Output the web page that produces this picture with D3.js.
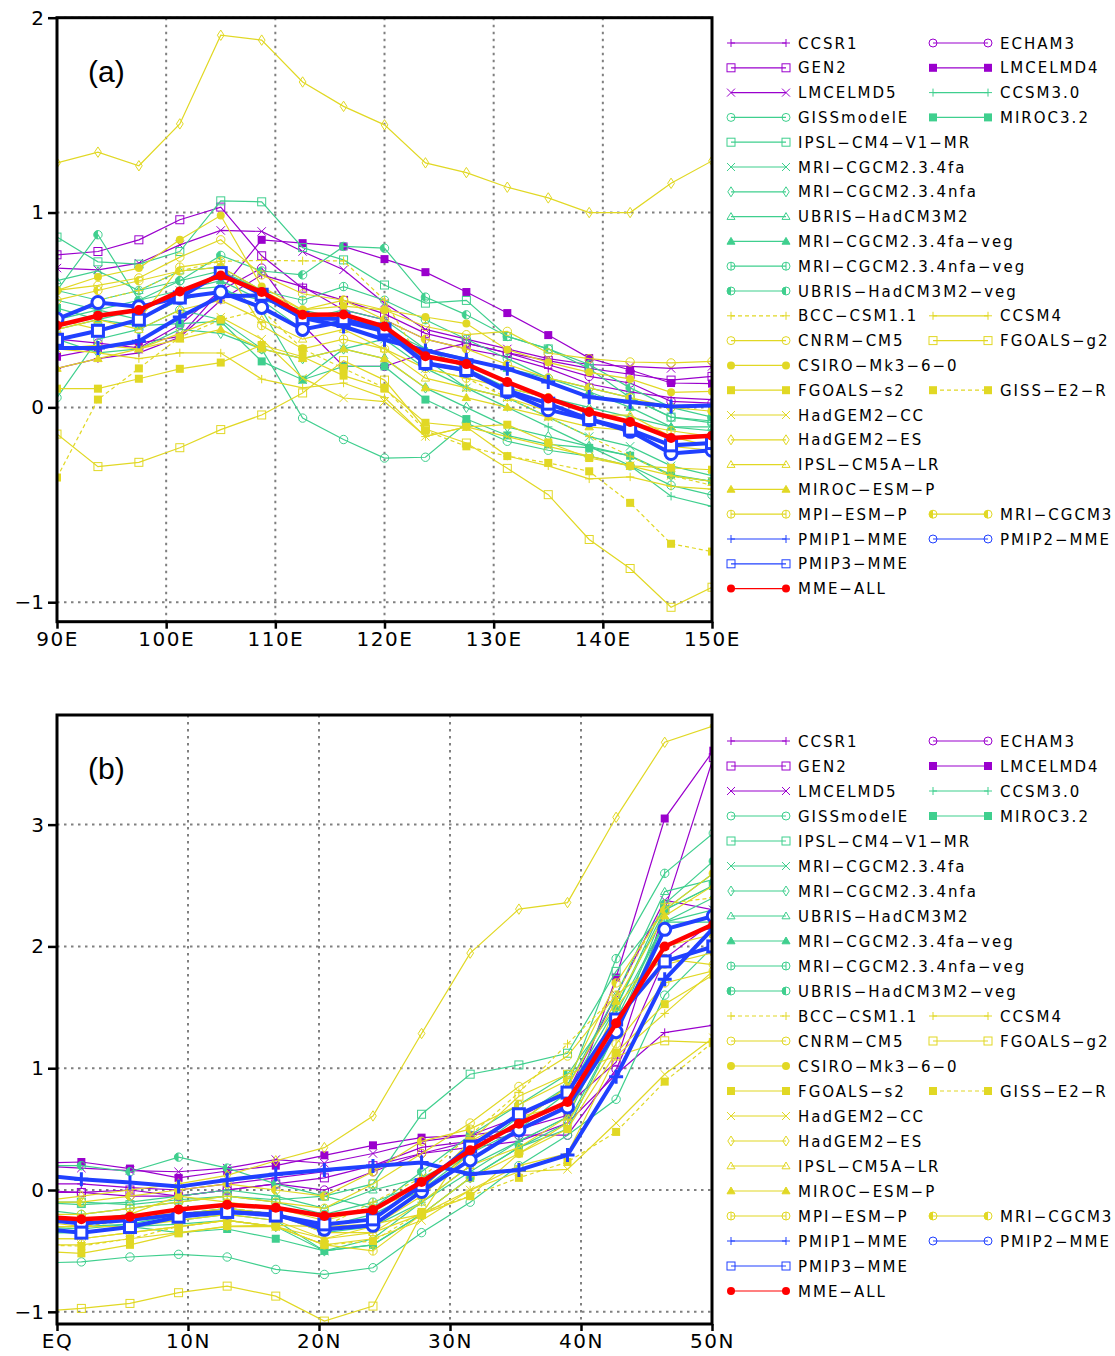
<!DOCTYPE html>
<html>
<head>
<meta charset="utf-8">
<script src="https://cdn.jsdelivr.net/npm/d3@7"></script>
<style>
  body { margin: 0; background: #fff; }
  svg { display: block; }
</style>
</head>
<body>
<svg id="chart" width="1115" height="1356"></svg>
<script>
// grid points: longitude (panel a) and gaussian latitudes (panel b)
const lonA = [90, 93.75, 97.5, 101.25, 105, 108.75, 112.5, 116.25, 120, 123.75, 127.5, 131.25, 135, 138.75, 142.5, 146.25, 150];
const latB = [-1.86, 1.86, 5.57, 9.28, 12.99, 16.70, 20.41, 24.12, 27.83, 31.54, 35.26, 38.97, 42.68, 46.39, 50.10];

const models = [
  "CCSR1", "ECHAM3", "GEN2", "LMCELMD4", "LMCELMD5",
  "CCSM3.0", "GISSmodelE", "MIROC3.2", "IPSL−CM4−V1−MR", "MRI−CGCM2.3.4fa",
  "MRI−CGCM2.3.4nfa", "UBRIS−HadCM3M2", "MRI−CGCM2.3.4fa−veg", "MRI−CGCM2.3.4nfa−veg", "UBRIS−HadCM3M2−veg",
  "BCC−CSM1.1", "CCSM4", "CNRM−CM5", "FGOALS−g2", "CSIRO−Mk3−6−0",
  "FGOALS−s2", "GISS−E2−R", "HadGEM2−CC", "HadGEM2−ES", "IPSL−CM5A−LR",
  "MIROC−ESM−P", "MPI−ESM−P", "MRI−CGCM3",
  "PMIP1−MME", "PMIP2−MME", "PMIP3−MME", "MME−ALL"
];

// panel (a): values along 90E-150E, same order as models
const seriesA = [
  [0.20, 0.25, 0.28, 0.36, 0.55, 0.68, 0.62, 0.50, 0.45, 0.35, 0.30, 0.26, 0.20, 0.12, 0.08, 0.05, 0.04],
  [0.35, 0.33, 0.305, 0.424, 0.60, 0.715, 0.424, 0.21, 0.21, 0.28, 0.33, 0.279, 0.219, 0.159, 0.125, 0.031, 0.022],
  [0.783, 0.80, 0.86, 0.963, 1.028, 0.778, 0.612, 0.549, 0.48, 0.38, 0.33, 0.28, 0.24, 0.20, 0.17, 0.14, 0.159],
  [0.26, 0.30, 0.33, 0.364, 0.60, 0.86, 0.843, 0.826, 0.761, 0.694, 0.592, 0.484, 0.371, 0.253, 0.192, 0.125, 0.122],
  [0.715, 0.706, 0.74, 0.834, 0.908, 0.903, 0.80, 0.706, 0.535, 0.40, 0.35, 0.30, 0.25, 0.22, 0.21, 0.20, 0.21],
  [0.55, 0.50, 0.45, 0.55, 0.60, 0.55, 0.50, 0.45, 0.40, 0.25, 0.10, 0.00, -0.10, -0.20, -0.30, -0.456, -0.508],
  [0.05, 0.35, 0.40, 0.50, 0.45, 0.30, -0.055, -0.165, -0.26, -0.256, -0.08, -0.174, -0.22, -0.25, -0.30, -0.40, -0.45],
  [0.51, 0.45, 0.42, 0.43, 0.441, 0.236, 0.142, 0.21, 0.21, 0.04, -0.06, -0.144, -0.19, -0.208, -0.248, -0.345, -0.38],
  [0.874, 0.747, 0.735, 0.80, 1.06, 1.055, 0.82, 0.757, 0.628, 0.535, 0.549, 0.364, 0.30, 0.20, 0.05, -0.05, -0.07],
  [0.40, 0.45, 0.50, 0.60, 0.62, 0.50, 0.142, 0.30, 0.35, 0.20, 0.10, 0.05, -0.05, -0.15, -0.20, -0.30, -0.35],
  [0.35, 0.28, 0.30, 0.40, 0.38, 0.30, 0.25, 0.30, 0.25, 0.10, 0.00, -0.10, -0.15, -0.20, -0.25, -0.35, -0.38],
  [0.65, 0.70, 0.60, 0.70, 0.72, 0.60, 0.45, 0.50, 0.45, 0.30, 0.20, 0.10, 0.05, 0.00, -0.05, -0.10, -0.10],
  [0.45, 0.50, 0.55, 0.60, 0.65, 0.55, 0.40, 0.45, 0.40, 0.30, 0.25, 0.20, 0.15, 0.08, 0.00, -0.10, -0.12],
  [0.60, 0.55, 0.60, 0.65, 0.70, 0.60, 0.55, 0.62, 0.55, 0.45, 0.35, 0.25, 0.15, 0.10, 0.05, -0.05, -0.08],
  [0.60, 0.886, 0.55, 0.65, 0.78, 0.70, 0.68, 0.826, 0.817, 0.566, 0.475, 0.364, 0.30, 0.22, 0.10, 0.00, -0.05],
  [0.45, 0.55, 0.60, 0.70, 0.75, 0.754, 0.752, 0.752, 0.55, 0.20, 0.15, 0.05, -0.05, -0.15, -0.25, -0.35, -0.40],
  [0.30, 0.28, 0.25, 0.28, 0.279, 0.145, 0.10, 0.125, 0.05, -0.15, -0.10, -0.25, -0.30, -0.367, -0.357, -0.405, -0.42],
  [0.60, 0.626, 0.664, 0.771, 0.86, 0.68, 0.583, 0.55, 0.50, 0.415, 0.373, 0.39, 0.279, 0.25, 0.233, 0.228, 0.236],
  [-0.137, -0.304, -0.282, -0.207, -0.114, -0.039, 0.074, 0.24, 0.14, -0.111, -0.183, -0.313, -0.448, -0.678, -0.827, -1.026, -0.923],
  [0.60, 0.669, 0.715, 0.86, 0.985, 0.62, 0.50, 0.52, 0.50, 0.464, 0.43, 0.296, 0.231, 0.18, 0.146, 0.077, 0.082],
  [0.096, 0.096, 0.147, 0.198, 0.23, 0.32, 0.26, 0.163, 0.096, -0.079, -0.10, -0.089, -0.18, -0.26, -0.30, -0.31, -0.32],
  [-0.36, 0.04, 0.20, 0.36, 0.45, 0.50, 0.30, 0.20, 0.10, -0.12, -0.20, -0.25, -0.285, -0.328, -0.49, -0.70, -0.74],
  [0.30, 0.32, 0.30, 0.38, 0.463, 0.35, 0.15, 0.048, 0.03, -0.149, -0.10, -0.15, -0.20, -0.25, -0.30, -0.35, -0.38],
  [1.255, 1.31, 1.24, 1.455, 1.91, 1.885, 1.67, 1.545, 1.45, 1.255, 1.205, 1.13, 1.075, 1.0, 1.0, 1.15, 1.265],
  [0.40, 0.45, 0.40, 0.50, 0.55, 0.45, 0.35, 0.40, 0.30, 0.15, 0.10, 0.05, -0.02, -0.04, -0.04, -0.15, -0.20],
  [0.20, 0.25, 0.30, 0.35, 0.40, 0.30, 0.25, 0.30, 0.25, 0.10, 0.05, 0.00, -0.05, -0.10, -0.12, -0.20, -0.22],
  [0.45, 0.40, 0.45, 0.72, 0.75, 0.42, 0.30, 0.35, 0.30, 0.20, 0.15, 0.10, 0.05, -0.02, -0.08, -0.12, -0.15],
  [0.55, 0.60, 0.65, 0.70, 0.72, 0.60, 0.50, 0.55, 0.45, 0.35, 0.30, 0.22, 0.15, 0.10, 0.05, 0.00, -0.02],
  [0.305, 0.305, 0.34, 0.464, 0.57, 0.575, 0.46, 0.415, 0.347, 0.292, 0.245, 0.198, 0.13, 0.053, 0.028, 0.005, 0.009],
  [0.453, 0.538, 0.516, 0.564, 0.592, 0.513, 0.40, 0.441, 0.39, 0.225, 0.19, 0.08, -0.012, -0.063, -0.123, -0.237, -0.22],
  [0.347, 0.393, 0.45, 0.564, 0.689, 0.578, 0.458, 0.453, 0.40, 0.228, 0.192, 0.087, 0.019, -0.06, -0.114, -0.195, -0.183],
  [0.42, 0.47, 0.50, 0.595, 0.677, 0.592, 0.475, 0.477, 0.415, 0.262, 0.222, 0.13, 0.046, -0.024, -0.075, -0.157, -0.145]
];

// panel (b): values along the latitudes, same order as models
const seriesB = [
  [0.05, 0.05, 0.02, 0.0, 0.05, 0.10, 0.15, 0.20, 0.30, 0.35, 0.40, 0.55, 0.95, 1.293, 1.353],
  [0.0, -0.02, -0.05, -0.05, 0.0, 0.05, 0.0, 0.15, 0.30, 0.40, 0.45, 0.45, 0.99, 1.90, 2.20],
  [-0.02, -0.02, 0.0, -0.05, 0.0, 0.05, 0.10, 0.20, 0.35, 0.40, 0.50, 0.70, 1.05, 2.30, 3.55],
  [0.22, 0.23, 0.176, 0.10, 0.156, 0.20, 0.285, 0.367, 0.43, 0.45, 0.50, 0.614, 1.745, 3.05, 3.607],
  [0.20, 0.18, 0.16, 0.15, 0.18, 0.25, 0.22, 0.30, 0.40, 0.45, 0.60, 0.80, 1.60, 2.38, 2.30],
  [-0.30, -0.30, -0.28, -0.20, -0.15, -0.20, -0.35, -0.30, -0.10, 0.15, 0.40, 0.60, 1.45, 2.20, 2.20],
  [-0.60, -0.59, -0.55, -0.528, -0.55, -0.652, -0.693, -0.638, -0.35, -0.10, 0.20, 0.45, 0.745, 1.60, 2.00],
  [-0.35, -0.35, -0.30, -0.35, -0.32, -0.40, -0.50, -0.45, -0.20, 0.10, 0.35, 0.50, 1.30, 2.30, 2.50],
  [-0.10, -0.10, -0.12, -0.08, -0.05, -0.08, -0.05, 0.05, 0.622, 0.951, 1.027, 1.123, 1.795, 2.30, 2.50],
  [-0.30, -0.32, -0.28, -0.25, -0.20, -0.25, -0.50, -0.40, -0.10, 0.20, 0.40, 0.60, 1.40, 2.20, 2.30],
  [-0.35, -0.35, -0.30, -0.28, -0.25, -0.30, -0.50, -0.45, -0.20, 0.10, 0.35, 0.55, 1.30, 2.20, 2.40],
  [-0.10, -0.12, -0.10, -0.05, 0.0, -0.05, -0.15, 0.0, 0.10, 0.30, 0.55, 0.85, 1.60, 2.45, 2.55],
  [-0.25, -0.25, -0.20, -0.20, -0.15, -0.20, -0.30, -0.20, 0.0, 0.30, 0.50, 0.80, 1.50, 2.30, 2.60],
  [-0.15, -0.20, -0.15, -0.10, -0.05, -0.10, -0.20, -0.10, 0.05, 0.30, 0.60, 0.85, 1.90, 2.60, 2.93],
  [0.20, 0.20, 0.15, 0.27, 0.18, 0.05, -0.05, -0.15, 0.15, 0.45, 0.70, 0.95, 1.50, 2.35, 2.70],
  [-0.30, -0.30, -0.25, -0.20, -0.15, -0.20, -0.30, -0.10, 0.10, 0.45, 0.80, 1.20, 1.60, 2.35, 2.40],
  [-0.45, -0.45, -0.40, -0.35, -0.30, -0.30, -0.40, -0.35, -0.20, 0.0, 0.20, 0.30, 1.10, 1.45, 1.80],
  [-0.20, -0.20, -0.15, -0.10, -0.05, -0.10, -0.15, 0.05, 0.30, 0.55, 0.85, 1.10, 1.60, 1.90, 1.85],
  [-1.00, -0.972, -0.931, -0.843, -0.789, -0.871, -1.076, -0.953, -0.20, 0.40, 0.77, 0.95, 1.10, 1.225, 1.21],
  [-0.25, -0.30, -0.20, -0.05, -0.10, -0.15, -0.25, -0.15, 0.0, 0.40, 0.60, 0.70, 1.40, 1.85, 1.95],
  [-0.50, -0.52, -0.45, -0.356, -0.296, -0.29, -0.30, -0.28, -0.20, -0.05, 0.30, 0.50, 1.128, 1.526, 1.767],
  [-0.45, -0.46, -0.40, -0.30, -0.25, -0.30, -0.45, -0.42, -0.18, -0.05, 0.10, 0.23, 0.477, 0.89, 1.216],
  [-0.40, -0.40, -0.35, -0.30, -0.25, -0.30, -0.45, -0.40, -0.25, 0.0, 0.15, 0.17, 0.55, 0.95, 1.25],
  [-0.10, -0.05, 0.0, 0.05, 0.12, 0.24, 0.348, 0.608, 1.285, 1.945, 2.306, 2.36, 3.06, 3.676, 3.81],
  [-0.25, -0.25, -0.20, -0.20, -0.15, -0.20, -0.35, -0.35, -0.10, 0.20, 0.35, 0.60, 1.50, 2.00, 2.10],
  [-0.30, -0.30, -0.30, -0.25, -0.20, -0.25, -0.40, -0.30, -0.05, 0.30, 0.55, 0.85, 1.55, 2.25, 2.50],
  [-0.40, -0.40, -0.35, -0.30, -0.25, -0.30, -0.45, -0.50, -0.20, 0.10, 0.30, 0.55, 1.20, 1.70, 1.80],
  [-0.10, -0.10, -0.05, 0.0, 0.05, 0.0, -0.05, 0.15, 0.40, 0.50, 0.70, 0.90, 1.70, 2.30, 2.60],
  [0.13, 0.088, 0.061, 0.028, 0.082, 0.129, 0.164, 0.197, 0.225, 0.129, 0.164, 0.288, 0.929, 1.73, 2.15],
  [-0.235, -0.274, -0.246, -0.20, -0.18, -0.20, -0.323, -0.29, -0.012, 0.247, 0.493, 0.682, 1.30, 2.14, 2.25],
  [-0.31, -0.35, -0.304, -0.219, -0.18, -0.21, -0.282, -0.241, 0.04, 0.356, 0.622, 0.80, 1.40, 1.877, 2.00],
  [-0.215, -0.24, -0.219, -0.159, -0.12, -0.145, -0.213, -0.164, 0.066, 0.326, 0.545, 0.723, 1.37, 2.00, 2.18]
];

const xTicksA = [90, 100, 110, 120, 130, 140, 150];
const xLabelsA = ["90E", "100E", "110E", "120E", "130E", "140E", "150E"];
const xTicksB = [0, 10, 20, 30, 40, 50];
const xLabelsB = ["EQ", "10N", "20N", "30N", "40N", "50N"];
const yTicksA = [-1, 0, 1, 2];
const yTicksB = [-1, 0, 1, 2, 3];

// ---- styles ----
const PUR = "#9a00cd", GRN = "#3fcf8e", YEL = "#e1d824", BLU = "#2040ff", RED = "#ff0000";
const look = [
  {c: PUR, m: "plus"}, {c: PUR, m: "circle"}, {c: PUR, m: "square"}, {c: PUR, m: "fsquare"}, {c: PUR, m: "x"},
  {c: GRN, m: "plus"}, {c: GRN, m: "circle"}, {c: GRN, m: "fsquare"}, {c: GRN, m: "square"}, {c: GRN, m: "x"},
  {c: GRN, m: "diamond"}, {c: GRN, m: "tri"}, {c: GRN, m: "ftri"}, {c: GRN, m: "vcircle"}, {c: GRN, m: "hcircle"},
  {c: YEL, m: "plus", dash: true}, {c: YEL, m: "plus"}, {c: YEL, m: "circle"}, {c: YEL, m: "square"}, {c: YEL, m: "fcircle"},
  {c: YEL, m: "fsquare"}, {c: YEL, m: "fsquare", dash: true}, {c: YEL, m: "x"}, {c: YEL, m: "diamond"}, {c: YEL, m: "tri"},
  {c: YEL, m: "ftri"}, {c: YEL, m: "vcircle"}, {c: YEL, m: "hcircle"},
  {c: BLU, m: "plus", big: true}, {c: BLU, m: "circle", big: true}, {c: BLU, m: "square", big: true}, {c: RED, m: "fcircle", big: true}
];

// legend rows (indices into models), second column optional
const legendRows = [
  [0, 1], [2, 3], [4, 5], [6, 7], [8], [9], [10], [11], [12], [13], [14],
  [15, 16], [17, 18], [19], [20, 21], [22], [23], [24], [25], [26, 27], [28, 29], [30], [31]
];

const svg = d3.select("#chart");
const X0 = 57, X1 = 712;
const FONT = "'DejaVu Sans', sans-serif";

function marker(g, type, x, y, s, color, sw, big) {
  const fillOpen = big ? "#fff" : "none";
  switch (type) {
    case "plus":
      g.append("path").attr("d", `M${x - s},${y}H${x + s}M${x},${y - s}V${y + s}`)
        .attr("stroke", color).attr("stroke-width", sw).attr("fill", "none");
      break;
    case "x":
      g.append("path").attr("d", `M${x - s},${y - s}L${x + s},${y + s}M${x - s},${y + s}L${x + s},${y - s}`)
        .attr("stroke", color).attr("stroke-width", sw).attr("fill", "none");
      break;
    case "circle":
      g.append("circle").attr("cx", x).attr("cy", y).attr("r", s)
        .attr("stroke", color).attr("stroke-width", sw).attr("fill", fillOpen);
      break;
    case "fcircle":
      g.append("circle").attr("cx", x).attr("cy", y).attr("r", s).attr("fill", color);
      break;
    case "vcircle":
      g.append("circle").attr("cx", x).attr("cy", y).attr("r", s)
        .attr("stroke", color).attr("stroke-width", sw).attr("fill", "none");
      g.append("path").attr("d", `M${x},${y - s}V${y + s}`).attr("stroke", color).attr("stroke-width", sw);
      break;
    case "hcircle":
      g.append("circle").attr("cx", x).attr("cy", y).attr("r", s)
        .attr("stroke", color).attr("stroke-width", sw).attr("fill", "none");
      g.append("path").attr("d", `M${x},${y - s}A${s},${s} 0 0 0 ${x},${y + s}Z`).attr("fill", color);
      break;
    case "square":
      g.append("rect").attr("x", x - s).attr("y", y - s).attr("width", 2 * s).attr("height", 2 * s)
        .attr("stroke", color).attr("stroke-width", sw).attr("fill", fillOpen);
      break;
    case "fsquare":
      g.append("rect").attr("x", x - s).attr("y", y - s).attr("width", 2 * s).attr("height", 2 * s).attr("fill", color);
      break;
    case "diamond":
      g.append("path").attr("d", `M${x},${y - s - 1}L${x + s * 0.8},${y}L${x},${y + s + 1}L${x - s * 0.8},${y}Z`)
        .attr("stroke", color).attr("stroke-width", sw).attr("fill", "none");
      break;
    case "tri":
    case "ftri":
      g.append("path").attr("d", `M${x},${y - s}L${x + s},${y + s * 0.7}L${x - s},${y + s * 0.7}Z`)
        .attr("stroke", color).attr("stroke-width", sw)
        .attr("fill", type === "ftri" ? color : "none");
      break;
  }
}

function drawPanel(p, idx) {
  const x = d3.scaleLinear().domain(p.xDomain).range([X0, X1]);
  const y = d3.scaleLinear().domain(p.yDomain).range([p.bottom, p.top]);
  const g = svg.append("g");

  const clipId = "clip" + idx;
  svg.append("clipPath").attr("id", clipId).append("rect")
    .attr("x", X0).attr("y", p.top).attr("width", X1 - X0).attr("height", p.bottom - p.top);

  // dotted grid
  const grid = g.append("g").attr("stroke", "#808080").attr("stroke-width", 2).attr("stroke-dasharray", "2.5,4.5");
  p.xTicks.forEach(t => grid.append("line").attr("x1", x(t)).attr("x2", x(t)).attr("y1", p.top).attr("y2", p.bottom));
  p.yTicks.forEach(t => grid.append("line").attr("x1", X0).attr("x2", X1).attr("y1", y(t)).attr("y2", y(t)));

  // series
  const plot = g.append("g").attr("clip-path", `url(#${clipId})`);
  const line = d3.line().x((d, i) => x(p.xs[i])).y(d => y(d));
  p.data.forEach((vals, k) => {
    const st = look[k];
    const s = plot.append("g");
    s.append("path").attr("d", line(vals)).attr("fill", "none").attr("stroke", st.c)
      .attr("stroke-width", st.big ? (st.c === RED ? 4.5 : 4) : 1.2)
      .attr("stroke-dasharray", st.dash ? "4,3" : null);
    vals.forEach((v, i) => {
      if (st.big) {
        const size = st.m === "fcircle" ? 5 : st.m === "plus" ? 7 : st.m === "circle" ? 6 : 5.5;
        marker(s, st.m, x(p.xs[i]), y(v), size, st.c, 3, true);
      } else {
        const size = st.m.includes("square") ? 4 : st.m === "fcircle" ? 4 : 4.2;
        marker(s, st.m, x(p.xs[i]), y(v), size, st.c, 1, false);
      }
    });
  });

  // frame
  g.append("rect").attr("x", X0).attr("y", p.top).attr("width", X1 - X0).attr("height", p.bottom - p.top)
    .attr("fill", "none").attr("stroke", "#000").attr("stroke-width", 3);

  // axes: ticks + labels
  const yAxis = d3.axisLeft(y).tickValues(p.yTicks).tickSize(9).tickPadding(4)
    .tickFormat(d => d < 0 ? "−" + Math.abs(d) : String(d));
  const ya = g.append("g").attr("transform", `translate(${X0},0)`).call(yAxis);
  ya.select(".domain").remove();
  ya.selectAll(".tick line").attr("stroke", "#000").attr("stroke-width", 2.5);
  ya.selectAll(".tick text").attr("font-family", FONT).attr("font-size", 20).attr("fill", "#000");

  const xAxis = d3.axisBottom(x).tickValues(p.xTicks).tickSize(7).tickPadding(3)
    .tickFormat((d, i) => p.xLabels[i]);
  const xa = g.append("g").attr("transform", `translate(0,${p.bottom})`).call(xAxis);
  xa.select(".domain").remove();
  xa.selectAll(".tick line").attr("stroke", "#000").attr("stroke-width", 2.5);
  xa.selectAll(".tick text").attr("font-family", FONT).attr("font-size", 20).attr("fill", "#000")
    .attr("letter-spacing", "1.5px");

  // panel tag
  g.append("text").attr("x", 88).attr("y", p.top + 64).attr("font-family", "'Liberation Sans', Arial, sans-serif")
    .attr("font-size", 30).text(p.tag);

  // legend
  const lg = g.append("g");
  const cols = [{x1: 731, x2: 786, tx: 798}, {x1: 933, x2: 988, tx: 1000}];
  legendRows.forEach((row, r) => {
    const ly = p.legTop + r * p.legStep;
    row.forEach((k, c) => {
      const st = look[k], col = cols[c];
      lg.append("line").attr("x1", col.x1).attr("x2", col.x2).attr("y1", ly).attr("y2", ly)
        .attr("stroke", st.c).attr("stroke-width", 1.2).attr("stroke-dasharray", st.dash ? "4,3" : null);
      const size = st.m === "fcircle" ? 4 : 4;
      marker(lg, st.m, col.x1, ly, size, st.c, 1, false);
      marker(lg, st.m, col.x2, ly, size, st.c, 1, false);
      lg.append("text").attr("x", col.tx).attr("y", ly + 5.5).attr("font-family", FONT)
        .attr("font-size", 15).attr("letter-spacing", "2px").attr("fill", "#000").text(models[k]);
    });
  });
}

const panels = [
  {top: 17.7, bottom: 621.7, xDomain: [90, 150], yDomain: [-1.1, 2], xs: lonA, data: seriesA,
   xTicks: xTicksA, xLabels: xLabelsA, yTicks: yTicksA, tag: "(a)", legTop: 43, legStep: 24.8},
  {top: 715, bottom: 1324, xDomain: [0, 50], yDomain: [-1.1, 3.9], xs: latB, data: seriesB,
   xTicks: xTicksB, xLabels: xLabelsB, yTicks: yTicksB, tag: "(b)", legTop: 741, legStep: 25}
];
panels.forEach(drawPanel);
</script>
</body>
</html>
